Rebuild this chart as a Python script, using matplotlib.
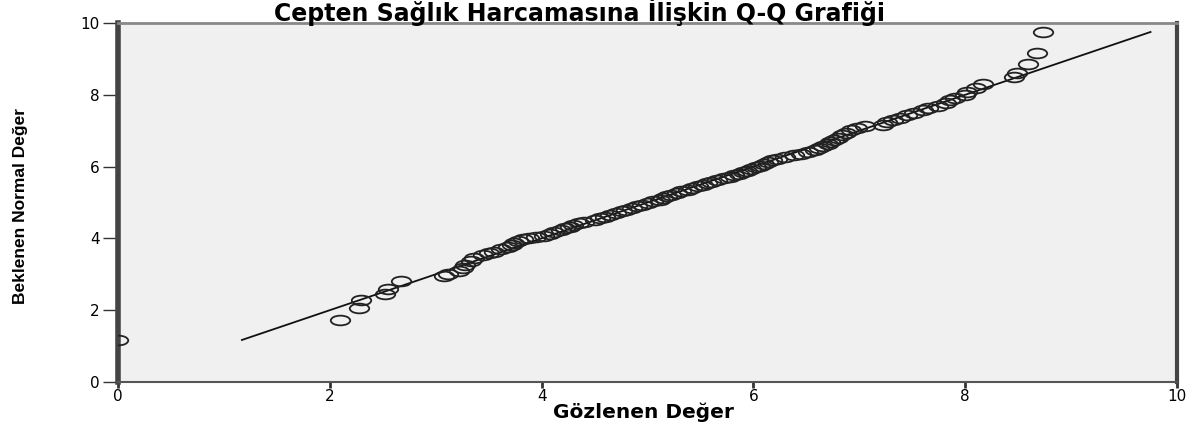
"""Q-Q plot: Cepten Sağlık Harcaması (observed vs expected normal)."""
import matplotlib
matplotlib.use("Agg")
import matplotlib.pyplot as plt
from matplotlib.markers import MarkerStyle
from matplotlib.transforms import Affine2D

OBSERVED = [0.00, 2.10, 2.28, 2.29, 2.52, 2.55, 2.67, 3.08, 3.12, 3.22,
            3.26, 3.28, 3.33, 3.36, 3.45, 3.50, 3.55, 3.62, 3.68, 3.72,
            3.74, 3.78, 3.82, 3.88, 3.95, 4.02, 4.08, 4.12, 4.18, 4.22,
            4.27, 4.30, 4.35, 4.40, 4.50, 4.55, 4.60, 4.65, 4.70, 4.76,
            4.80, 4.85, 4.90, 4.95, 5.00, 5.05, 5.12, 5.15, 5.18, 5.22,
            5.28, 5.32, 5.38, 5.42, 5.48, 5.52, 5.56, 5.60, 5.66, 5.72,
            5.78, 5.82, 5.86, 5.90, 5.94, 5.98, 6.02, 6.06, 6.10, 6.14,
            6.18, 6.22, 6.30, 6.38, 6.45, 6.52, 6.58, 6.62, 6.66, 6.70,
            6.72, 6.76, 6.80, 6.84, 6.87, 6.92, 6.98, 7.05, 7.22, 7.26,
            7.32, 7.38, 7.45, 7.52, 7.60, 7.65, 7.74, 7.82, 7.86, 7.90,
            8.00, 8.02, 8.10, 8.17, 8.46, 8.49, 8.59, 8.68, 8.73]
EXPECTED = [1.17, 1.74, 2.06, 2.27, 2.45, 2.59, 2.80, 2.95, 3.00, 3.10,
            3.17, 3.25, 3.36, 3.44, 3.53, 3.58, 3.63, 3.70, 3.76, 3.82,
            3.88, 3.93, 3.97, 4.00, 4.04, 4.08, 4.12, 4.17, 4.22, 4.28,
            4.33, 4.38, 4.42, 4.46, 4.52, 4.56, 4.60, 4.65, 4.70, 4.75,
            4.80, 4.85, 4.90, 4.94, 4.99, 5.03, 5.08, 5.13, 5.18, 5.22,
            5.27, 5.31, 5.36, 5.40, 5.45, 5.49, 5.53, 5.58, 5.62, 5.67,
            5.71, 5.76, 5.80, 5.85, 5.89, 5.94, 5.98, 6.03, 6.07, 6.12,
            6.17, 6.21, 6.26, 6.31, 6.36, 6.41, 6.46, 6.51, 6.57, 6.62,
            6.68, 6.74, 6.80, 6.87, 6.94, 7.01, 7.08, 7.13, 7.17, 7.23,
            7.30, 7.36, 7.43, 7.50, 7.57, 7.63, 7.70, 7.78, 7.85, 7.92,
            7.99, 8.07, 8.18, 8.30, 8.49, 8.62, 8.87, 9.17, 9.75]
# reference line end points
LINE_X = [1.17, 9.75]
LINE_Y = [1.17, 9.75]
TICKS = [0, 2, 4, 6, 8, 10]

TITLE = "Cepten Sağlık Harcamasına İlişkin Q-Q Grafiği"
XLABEL = "Gözlenen Değer"
YLABEL = "Beklenen Normal Değer"

fig = plt.figure(figsize=(11.93, 4.29), dpi=100)
ax = fig.add_axes([0.0989, 0.1096, 0.8877, 0.8368])
ax.set_facecolor("#f0f0f0")

ax.plot(LINE_X, LINE_Y, color="#111111", lw=1.3, zorder=2)
ellipse = MarkerStyle("o", transform=Affine2D().scale(2.0, 1.0))
ax.plot(OBSERVED, EXPECTED, ls="none", marker=ellipse, ms=7,
        mfc="none", mec="#222222", mew=1.3, zorder=3)

ax.set_xlim(0, 10)
ax.set_ylim(0, 10)
ax.set_xticks(TICKS)
ax.set_yticks(TICKS)
ax.tick_params(axis="y", length=11, width=1.0, color="#333333",
               labelsize=11, pad=2)
ax.tick_params(axis="x", length=4, width=2.0, color="#333333",
               labelsize=11, pad=1)

ax.spines["left"].set_linewidth(4)
ax.spines["left"].set_color("#444444")
ax.spines["right"].set_linewidth(3)
ax.spines["right"].set_color("#444444")
ax.spines["top"].set_linewidth(2)
ax.spines["top"].set_color("#888888")
ax.spines["bottom"].set_linewidth(1.5)
ax.spines["bottom"].set_color("#555555")

ax.set_xlabel(XLABEL, fontsize=14.5, fontweight="bold")
ax.xaxis.set_label_coords(0.496, -0.058)
ax.set_ylabel(YLABEL, fontsize=12.5, fontweight="bold",
              family=["Liberation Sans", "DejaVu Sans"])
ax.yaxis.set_label_coords(-0.085, 0.49)

fig.text(0.486, 0.972, TITLE, ha="center", va="center",
         fontsize=17, fontweight="bold")

fig.savefig("out.png", dpi=100)
